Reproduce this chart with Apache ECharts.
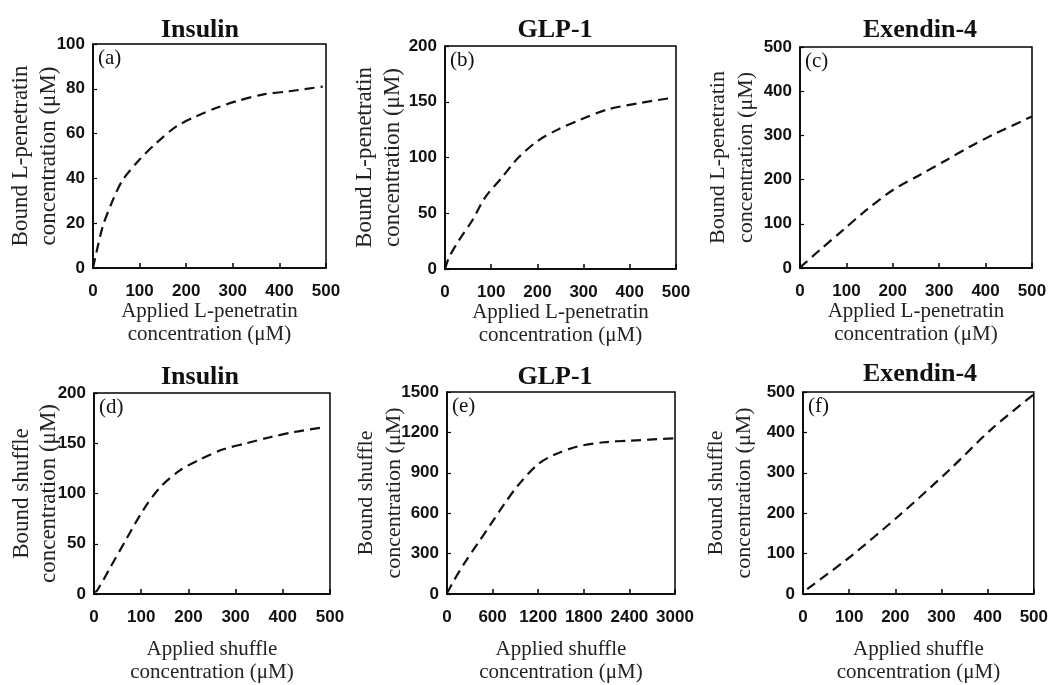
<!DOCTYPE html>
<html>
<head>
<meta charset="utf-8">
<script src="https://cdn.jsdelivr.net/npm/echarts@6/dist/echarts.min.js"></script>
<style>
  html, body { margin: 0; padding: 0; background: #fff; }
  #chart { width: 1051px; height: 685px; }
</style>
</head>
<body>
<div id="chart"></div>
<script>
// (a) Insulin / L-penetratin
var xA = [0, 7, 21, 43, 64, 100, 136, 179, 221, 264, 307, 364, 421, 493];
var yA = [0, 6.7, 18.6, 30.5, 39.4, 48.4, 55.8, 63.2, 67.7, 71.4, 74.4, 77.4, 78.9, 81];
// (b) GLP-1 / L-penetratin
var xB = [0, 9, 30, 59, 87, 123, 159, 201, 244, 294, 351, 423, 494];
var yB = [0, 10.7, 25.6, 43.5, 64.3, 82, 100, 115, 125, 134, 143, 149, 153.6];
// (c) Exendin-4 / L-penetratin
var xC = [0, 7, 43, 94, 144, 201, 259, 317, 367, 417, 500];
var yC = [1, 7.5, 41, 87, 132, 177, 211, 245, 275, 302, 343];
// (d) Insulin / shuffle
var xD = [0, 6, 34, 69, 105, 140, 182, 225, 274, 323, 373, 422, 489];
var yD = [2, 3, 26, 55, 84, 106, 123, 134, 144, 150, 156, 161, 166];
// (e) GLP-1 / shuffle
var xE = [0, 96, 228, 403, 578, 753, 928, 1191, 1410, 1717, 2067, 2418, 2987];
var yE = [5, 105, 227, 374, 520, 667, 802, 961, 1034, 1095, 1127, 1139, 1156];
// (f) Exendin-4 / shuffle
var xF = [9, 102, 209, 317, 410, 500];
var yF = [12, 92, 195, 307, 410, 494];

var titles = ['Insulin', 'GLP-1', 'Exendin-4', 'Insulin', 'GLP-1', 'Exendin-4'];
var tags = ['(a)', '(b)', '(c)', '(d)', '(e)', '(f)'];
var xNames = ['Applied L-penetratin\nconcentration (\u03bcM)', 'Applied L-penetratin\nconcentration (\u03bcM)',
  'Applied L-penetratin\nconcentration (\u03bcM)', 'Applied shuffle\nconcentration (\u03bcM)',
  'Applied shuffle\nconcentration (\u03bcM)', 'Applied shuffle\nconcentration (\u03bcM)'];
var yNames = ['Bound L-penetratin\nconcentration (\u03bcM)', 'Bound L-penetratin\nconcentration (\u03bcM)',
  'Bound L-penetratin\nconcentration (\u03bcM)', 'Bound shuffle\nconcentration (\u03bcM)',
  'Bound shuffle\nconcentration (\u03bcM)', 'Bound shuffle\nconcentration (\u03bcM)'];
var xMax = [500, 500, 500, 500, 3000, 500];
var xStep = [100, 100, 100, 100, 600, 100];
var yMax = [100, 200, 500, 200, 1500, 500];
var yStep = [20, 50, 100, 50, 300, 100];
var xs = [xA, xB, xC, xD, xE, xF];
var ys = [yA, yB, yC, yD, yE, yF];

// plot boxes
var boxes = [
  {left: 93, top: 44, width: 233, height: 224},
  {left: 445, top: 46, width: 231, height: 223},
  {left: 800, top: 47, width: 232, height: 221},
  {left: 94, top: 393, width: 236, height: 207},
  {left: 447, top: 392, width: 228, height: 207},
  {left: 803, top: 392, width: 232, height: 210}
];
var titleX = [200, 555, 920, 200, 555, 920];
var titleY = [17, 17, 17, 364, 364, 361];
var yGap = [30, 38, 40, 32, 39, 45];
var yFont = [23, 23, 22, 23, 22, 22];
var yLine = [28, 28, 28, 27, 28, 28];
var xGap = [32, 32, 32, 44, 44, 44];

var serif = '"Liberation Serif", "Times New Roman", serif';
var sans = '"Liberation Sans", Arial, sans-serif';

var grid = [], xAxis = [], yAxis = [], series = [], title = [], graphic = [];
for (var i = 0; i < 6; i++) {
  var b = boxes[i];
  grid.push({left: b.left, top: b.top, width: b.width, height: b.height,
    show: true, borderColor: '#000', borderWidth: 1.5, containLabel: false});
  xAxis.push({
    type: 'value', gridIndex: i, min: 0, max: xMax[i], interval: xStep[i],
    name: xNames[i], nameLocation: 'middle', nameGap: xGap[i], nameMoveOverlap: false,
    nameTextStyle: {fontFamily: serif, fontSize: 21, color: '#222', lineHeight: 23},
    axisLine: {show: true, lineStyle: {color: '#000', width: 1.5}},
    axisTick: {show: true, inside: true, length: 5, lineStyle: {color: '#000', width: 1.5}},
    axisLabel: {fontFamily: sans, fontWeight: 'bold', fontSize: 17, color: '#111', margin: 15,
      formatter: function (v) { return String(v); }},
    splitLine: {show: false}
  });
  yAxis.push({
    type: 'value', gridIndex: i, min: 0, max: yMax[i], interval: yStep[i],
    name: yNames[i], nameLocation: 'middle', nameGap: yGap[i], nameMoveOverlap: false,
    nameTextStyle: {fontFamily: serif, fontSize: yFont[i], color: '#222', lineHeight: yLine[i]},
    axisLine: {show: true, lineStyle: {color: '#000', width: 1.5}},
    axisTick: {show: true, inside: true, length: 4, lineStyle: {color: '#000', width: 1.2}},
    axisLabel: {fontFamily: sans, fontWeight: 'bold', fontSize: 17, color: '#111', margin: 8,
      formatter: function (v) { return String(v); }},
    splitLine: {show: false}
  });
  var pts = xs[i].map(function (x, k) { return [x, ys[i][k]]; });
  series.push({
    type: 'line', xAxisIndex: i, yAxisIndex: i, data: pts, smooth: 0.3,
    showSymbol: false, lineStyle: {color: '#111', width: 2.2, type: [10, 6]}
  });
  title.push({
    text: titles[i], left: titleX[i], top: titleY[i], textAlign: 'center', padding: 0,
    textStyle: {fontFamily: serif, fontWeight: 'bold', fontSize: 26, color: '#111'}
  });
  graphic.push({
    type: 'text', left: b.left + 5, top: b.top + 4,
    style: {text: tags[i], font: '21px ' + serif, fill: '#111'}
  });
}

var chart = echarts.init(document.getElementById('chart'), null, {renderer: 'canvas'});
chart.setOption({
  animation: false,
  backgroundColor: '#fff',
  title: title,
  grid: grid,
  xAxis: xAxis,
  yAxis: yAxis,
  series: series,
  graphic: graphic
});
</script>
</body>
</html>
